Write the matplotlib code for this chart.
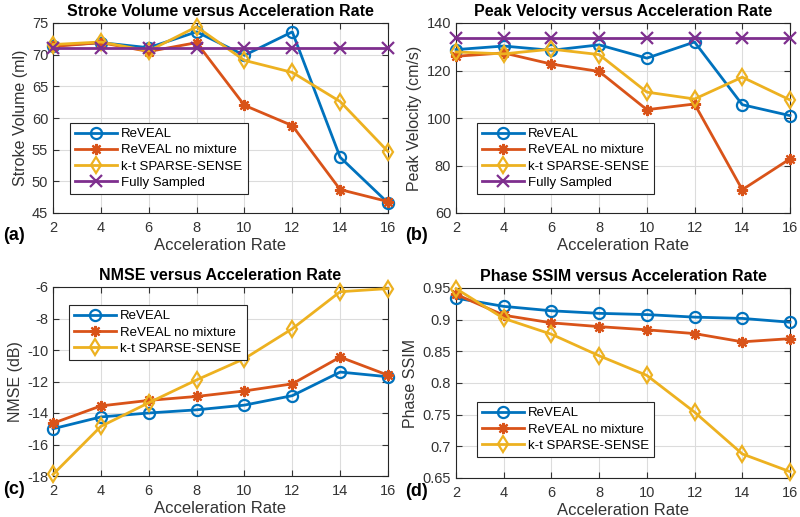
import numpy as np
import matplotlib
matplotlib.use('Agg')
import matplotlib.pyplot as plt

plt.rcParams['font.family'] = ['Liberation Sans', 'DejaVu Sans']

rates = [2, 4, 6, 8, 10, 12, 14, 16]
names4 = ['ReVEAL', 'ReVEAL no mixture', 'k-t SPARSE-SENSE', 'Fully Sampled']

# (a) stroke volume (ml)
sv_reveal = [71.4, 71.9, 71.1, 73.6, 69.9, 73.6, 53.8, 46.6]
sv_nomix = [71.3, 71.9, 70.5, 71.9, 62.0, 58.8, 48.7, 46.8]
sv_kt = [71.6, 72.0, 70.6, 74.4, 69.1, 67.2, 62.6, 54.7]
sv_full = [71.0] * 8

# (b) peak velocity (cm/s)
pv_reveal = [128.8, 130.3, 128.5, 130.8, 125.2, 132.0, 105.6, 101.0]
pv_nomix = [126.0, 127.4, 122.7, 119.6, 103.5, 105.9, 69.8, 82.8]
pv_kt = [127.8, 127.0, 129.0, 126.7, 110.9, 108.0, 117.2, 107.6]
pv_full = [133.7] * 8

# (c) NMSE (dB)
nm_reveal = [-15.0, -14.25, -14.0, -13.8, -13.5, -12.9, -11.4, -11.7]
nm_nomix = [-14.65, -13.55, -13.2, -12.95, -12.6, -12.15, -10.45, -11.6]
nm_kt = [-17.9, -14.85, -13.35, -11.9, -10.55, -8.65, -6.3, -6.1]

# (d) phase SSIM
ss_reveal = [0.934, 0.921, 0.914, 0.910, 0.908, 0.904, 0.902, 0.896]
ss_nomix = [0.940, 0.907, 0.895, 0.889, 0.884, 0.878, 0.865, 0.870]
ss_kt = [0.949, 0.902, 0.877, 0.843, 0.812, 0.754, 0.688, 0.660]

colors = ['#0072BD', '#D95319', '#EDB120', '#7E2F8E']
markers = ['o', (8, 2, 0), 'd', 'x']

fig = plt.figure(figsize=(8, 5.17), dpi=100)
W, H = 800.0, 517.0

def make_ax(x0, y0, x1, y1):
    return fig.add_axes([x0 / W, 1 - y1 / H, (x1 - x0) / W, (y1 - y0) / H])

panels = [
    (make_ax(53, 23, 388, 213), [sv_reveal, sv_nomix, sv_kt, sv_full],
     'Stroke Volume versus Acceleration Rate', 'Stroke Volume (ml)',
     (45, 75), np.arange(45, 76, 5), ['45', '50', '55', '60', '65', '70', '75'],
     dict(loc='lower left', bbox_to_anchor=(0.03, 0.065)), '(a)', (3, 236)),
    (make_ax(456, 23, 790, 213), [pv_reveal, pv_nomix, pv_kt, pv_full],
     'Peak Velocity versus Acceleration Rate', 'Peak Velocity (cm/s)',
     (60, 140), np.arange(60, 141, 20), ['60', '80', '100', '120', '140'],
     dict(loc='lower left', bbox_to_anchor=(0.042, 0.065)), '(b)', (405, 236)),
    (make_ax(53, 287, 388, 476), [nm_reveal, nm_nomix, nm_kt],
     'NMSE versus Acceleration Rate', 'NMSE (dB)',
     (-18, -6), np.arange(-18, -5, 2), ['-18', '-16', '-14', '-12', '-10', '-8', '-6'],
     dict(loc='upper left', bbox_to_anchor=(0.027, 0.94)), '(c)', (3, 489)),
    (make_ax(456, 288, 790, 478), [ss_reveal, ss_nomix, ss_kt],
     'Phase SSIM versus Acceleration Rate', 'Phase SSIM',
     (0.65, 0.95), np.arange(0.65, 0.96, 0.05), ['0.65', '0.7', '0.75', '0.8', '0.85', '0.9', '0.95'],
     dict(loc='lower left', bbox_to_anchor=(0.042, 0.075)), '(d)', (405, 492)),
]

for ax, series, title, ylab, ylim, yt, ytl, legkw, tag, tagpos in panels:
    for k, ys in enumerate(series):
        ax.plot(rates, ys, color=colors[k], marker=markers[k], lw=2,
                ms=8, mfc='none', mew=1.6, label=names4[k], clip_on=False, zorder=3 + k)
    ax.set_xlim(2, 16)
    ax.set_ylim(*ylim)
    ax.set_xticks(rates)
    ax.set_yticks(yt)
    ax.set_yticklabels(ytl)
    ax.grid(True, color='#dcdcdc', lw=0.8)
    ax.set_axisbelow(True)
    ax.tick_params(direction='in', top=True, right=True, labelsize=10.5,
                   colors='#333333', length=4)
    ax.tick_params(axis='x', pad=6)
    for s in ax.spines.values():
        s.set_color('#262626')
        s.set_linewidth(0.8)
    ax.set_title(title, fontsize=11.5, fontweight='bold', pad=5)
    ax.set_xlabel('Acceleration Rate', fontsize=12, color='#333333', labelpad=2)
    ax.set_ylabel(ylab, fontsize=11.5, color='#333333', labelpad=3)
    leg = ax.legend(fontsize=9.5, handlelength=3.2, borderpad=0.4,
                    labelspacing=0.3, handletextpad=0.3, fancybox=False,
                    framealpha=1, **legkw)
    leg.get_frame().set_edgecolor('#262626')
    leg.get_frame().set_linewidth(0.8)
    fig.text(tagpos[0] / W, 1 - tagpos[1] / H, tag, fontsize=13,
             fontweight='bold', va='center', ha='left')

fig.savefig('out.png', dpi=100)
